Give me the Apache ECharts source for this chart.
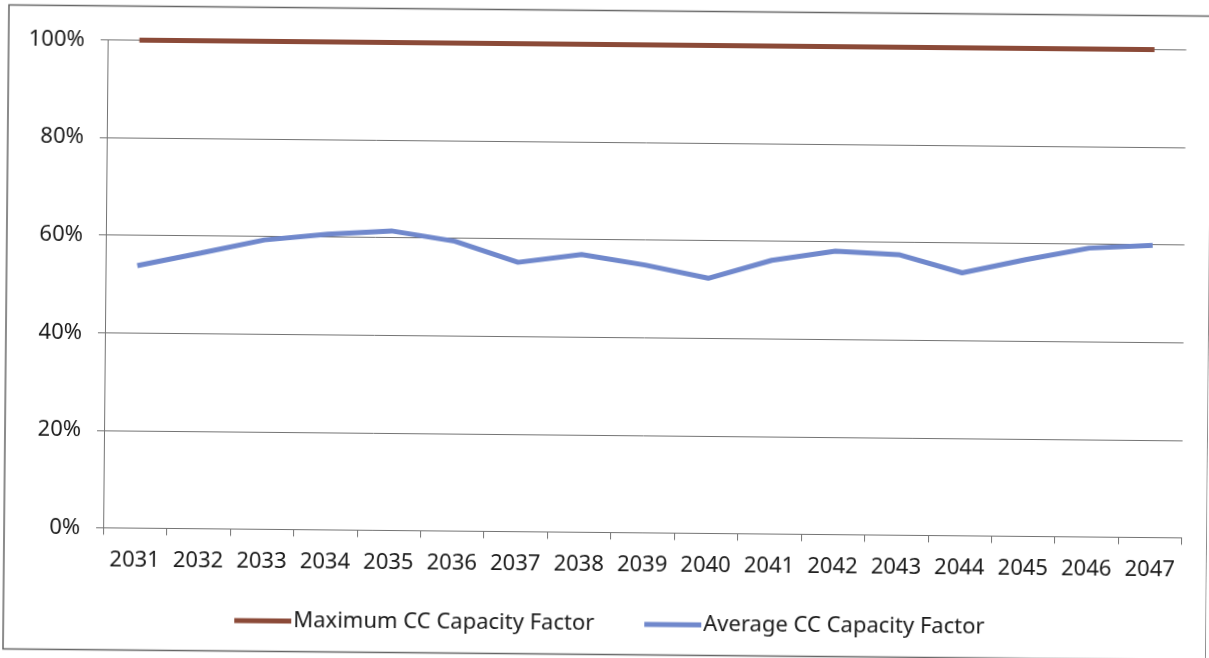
<!DOCTYPE html>
<html>
<head>
<meta charset="utf-8">
<script src="https://cdn.jsdelivr.net/npm/echarts@6/dist/echarts.min.js"></script>
<style>
  html, body { margin: 0; padding: 0; background: #ffffff; overflow: hidden; }
  #sheet {
    position: absolute; left: 0; top: 0; width: 1209px; height: 658px;
    transform: rotate(0.534deg); transform-origin: 604.5px 329px;
  }
  #chart { width: 1209px; height: 658px; }
</style>
</head>
<body>
<div id="sheet"><div id="chart"></div></div>
<script>
// Years on the horizontal axis
const years = ['2031','2032','2033','2034','2035','2036','2037','2038','2039',
               '2040','2041','2042','2043','2044','2045','2046','2047'];
// Capacity factors, percent
const maxCapacityFactor = [100,100,100,100,100,100,100,100,100,100,100,100,100,100,100,100,100];
const avgCapacityFactor = [53.8,56.5,59.3,60.6,61.4,59.4,55.2,56.9,54.9,52.3,56.1,58.1,57.5,53.9,56.7,59.2,59.9];
// Vertical axis ticks, percent
const yTicks = [0, 20, 40, 60, 80, 100];

const FONT = 'Noto Sans';
const GRID = '#747474';
const TEXT = '#1a1a1a';
const BROWN = '#8b4a38';
const BLUE = '#7088cc';

const chart = echarts.init(document.getElementById('chart'), null, { renderer: 'canvas' });
chart.setOption({
  backgroundColor: '#ffffff',
  animation: false,
  textStyle: { fontFamily: FONT, color: TEXT },
  graphic: [{
    type: 'rect', silent: true,
    shape: { x: 6, y: 10.5, width: 1203, height: 644 },
    style: { fill: 'none', stroke: '#666', lineWidth: 1.5 }
  }],
  grid: { left: 105, right: 25.4, top: 44.6, bottom: 125.6, containLabel: false },
  legend: {
    left: 232, top: 608,
    itemWidth: 57, itemHeight: 5, itemGap: 50,
    icon: 'rect',
    textStyle: { fontFamily: FONT, fontSize: 22, color: TEXT, padding: [0, 0, 0, -3] },
    data: ['Maximum CC Capacity Factor', 'Average CC Capacity Factor']
  },
  xAxis: {
    type: 'category',
    data: years,
    boundaryGap: true,
    axisLine: { show: true, lineStyle: { color: GRID, width: 1 } },
    axisTick: { show: true, length: 7, lineStyle: { color: GRID } },
    axisLabel: { fontFamily: FONT, fontSize: 22, color: TEXT, margin: 21, interval: 0 },
    splitLine: { show: false }
  },
  yAxis: {
    type: 'value',
    min: yTicks[0], max: yTicks[yTicks.length - 1], interval: yTicks[1] - yTicks[0],
    axisLine: { show: true, lineStyle: { color: GRID, width: 1 } },
    axisTick: { show: true, length: 7, lineStyle: { color: GRID } },
    axisLabel: { fontFamily: FONT, fontSize: 22, color: TEXT, margin: 23, formatter: '{value}%' },
    splitLine: { show: true, lineStyle: { color: GRID, width: 1 } }
  },
  series: [
    {
      name: 'Maximum CC Capacity Factor',
      type: 'line',
      data: maxCapacityFactor,
      symbol: 'none',
      lineStyle: { color: BROWN, width: 5 },
      itemStyle: { color: BROWN },
      z: 3
    },
    {
      name: 'Average CC Capacity Factor',
      type: 'line',
      data: avgCapacityFactor,
      symbol: 'none',
      lineStyle: { color: BLUE, width: 5 },
      itemStyle: { color: BLUE },
      z: 3
    }
  ]
});
</script>
</body>
</html>
